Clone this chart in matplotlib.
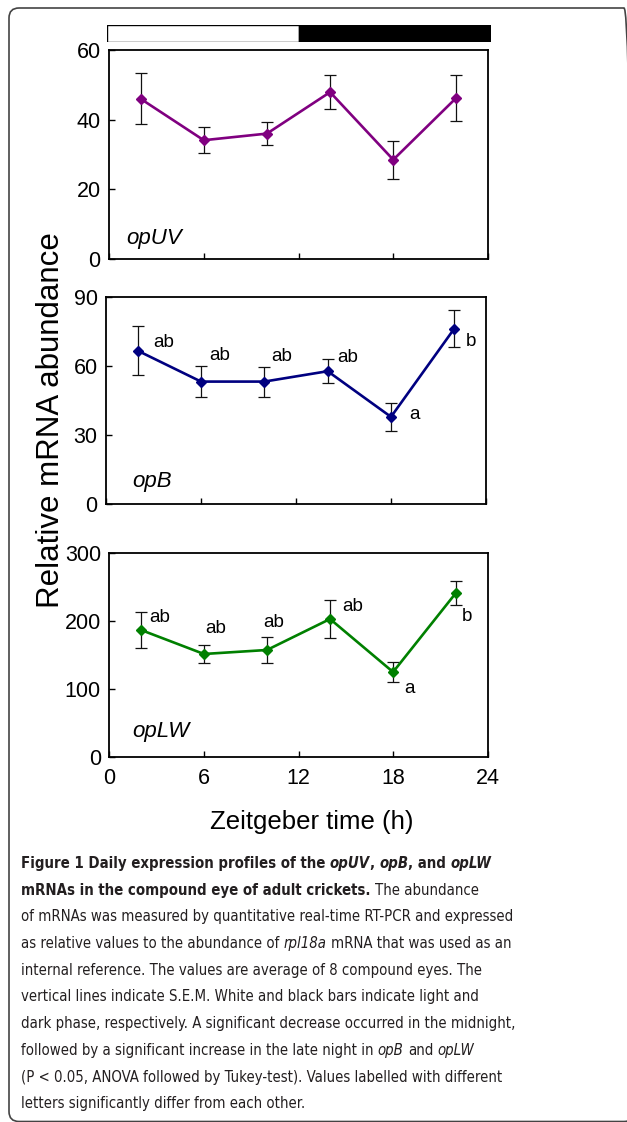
import matplotlib
matplotlib.use('Agg')
import matplotlib.pyplot as plt
from matplotlib import font_manager
from matplotlib.patches import FancyBboxPatch
from matplotlib.transforms import IdentityTransform

# data (mean +/- S.E.M.)
zt = [2, 6, 10, 14, 18, 22]
opuv = [46.0, 34.1, 36.0, 47.9, 28.5, 46.3]
opuv_sem = [7.3, 3.7, 3.3, 4.8, 5.4, 6.6]
opb = [66.6, 53.2, 53.2, 57.7, 37.9, 76.2]
opb_sem = [10.5, 6.8, 6.5, 5.3, 6.2, 8.0]
oplw = [187.0, 151.5, 157.4, 203.1, 124.9, 242.0]
oplw_sem = [26.6, 13.3, 18.5, 27.5, 14.2, 17.7]
opb_letters = ['ab', 'ab', 'ab', 'ab', 'a', 'b']
oplw_letters = ['ab', 'ab', 'ab', 'ab', 'a', 'b']
xticks = [0, 6, 12, 18, 24]
light_phase = (0, 12)
dark_phase = (12, 24)

W, H = 627, 1122

# is there a condensed face to use for the caption?
cond_file = font_manager.findfont(font_manager.FontProperties(family='DejaVu Sans', stretch='condensed'))
HAS_COND = 'condensed' in cond_file.lower()
SANS = 'Liberation Sans'

plt.rcParams['font.family'] = [SANS, 'DejaVu Sans']

fig = plt.figure(figsize=(W / 100, H / 100), dpi=100)


def px_axes(left, top, right, bottom):
    return fig.add_axes([left / W, 1 - bottom / H, (right - left) / W, (bottom - top) / H])


def style_axes(ax, ymax, yticks, show_x):
    ax.set_xlim(0, 24)
    ax.set_ylim(0, ymax)
    ax.set_xticks(xticks)
    ax.set_yticks(yticks)
    for s in ax.spines.values():
        s.set_linewidth(1.3)
    ax.tick_params(direction='in', length=4, width=1, top=False, right=False,
                   labelsize=15.5, pad=6)
    if not show_x:
        ax.tick_params(labelbottom=False)
    else:
        ax.tick_params(axis='x', pad=8)


def draw_series(ax, y, err, color):
    ax.errorbar(zt, y, yerr=err, color=color, marker='D', ms=5, lw=1.9,
                ecolor='#111111', elinewidth=0.9, capsize=4.5, capthick=0.9, zorder=3)


# light / dark bar
bar = px_axes(106.7, 25, 491, 42)
bar.set_xlim(0, 24)
bar.set_ylim(0, 1)
bar.barh(0.5, light_phase[1] - light_phase[0], left=light_phase[0], height=1,
         color='white', edgecolor='black', lw=1)
bar.barh(0.5, dark_phase[1] - dark_phase[0], left=dark_phase[0], height=1,
         color='black', edgecolor='black', lw=1)
bar.axis('off')

# opUV
ax1 = px_axes(109, 50, 488, 259)
draw_series(ax1, opuv, opuv_sem, '#800080')
style_axes(ax1, 60, [0, 20, 40, 60], False)
ax1.text(0.045, 0.10, 'opUV', transform=ax1.transAxes, fontsize=16, style='italic', va='center')

# opB
ax2 = px_axes(106, 296.7, 486, 504.3)
draw_series(ax2, opb, opb_sem, '#000080')
style_axes(ax2, 90, [0, 30, 60, 90], False)
ax2.text(0.068, 0.109, 'opB', transform=ax2.transAxes, fontsize=16, style='italic', va='center')
opb_off = [(11, 6), (6, 19), (5, 18), (7, 10), (13, 1.5), (8, -9.5)]
for xi, yi, lab, off in zip(zt, opb, opb_letters, opb_off):
    ax2.annotate(lab, (xi, yi), xytext=off, textcoords='offset points',
                 fontsize=13.5, ha='left', va='center')

# opLW
ax3 = px_axes(109.3, 553.3, 487.7, 756.7)
draw_series(ax3, oplw, oplw_sem, '#008000')
style_axes(ax3, 300, [0, 100, 200, 300], True)
ax3.text(0.062, 0.123, 'opLW', transform=ax3.transAxes, fontsize=16, style='italic', va='center')
oplw_off = [(6, 9), (1, 18), (-2.5, 20), (8.5, 9), (8, -12), (4, -17)]
for xi, yi, lab, off in zip(zt, oplw, oplw_letters, oplw_off):
    ax3.annotate(lab, (xi, yi), xytext=off, textcoords='offset points',
                 fontsize=13.5, ha='left', va='center')

fig.text(51 / W, 1 - 420 / H, 'Relative mRNA abundance', rotation=90,
         fontsize=22.5, ha='center', va='center')
fig.text(312 / W, 1 - 822 / H, 'Zeitgeber time (h)', fontsize=18.5, ha='center', va='center')

# frame around figure + caption (runs off the right edge like the scan)
frame = FancyBboxPatch((9, 0.5), 625, 1113.5, boxstyle='round,pad=0,rounding_size=10',
                       transform=IdentityTransform(), fill=False, edgecolor='#444444', lw=1.2)
fig.patches.append(frame)

caption = [
    [('Figure 1 Daily expression profiles of the ', 'bold', 'normal'), ('opUV', 'bold', 'italic'),
     (', ', 'bold', 'normal'), ('opB', 'bold', 'italic'), (', and ', 'bold', 'normal'),
     ('opLW', 'bold', 'italic')],
    [('mRNAs in the compound eye of adult crickets.', 'bold', 'normal'),
     (' The abundance', 'normal', 'normal')],
    [('of mRNAs was measured by quantitative real-time RT-PCR and expressed', 'normal', 'normal')],
    [('as relative values to the abundance of ', 'normal', 'normal'), ('rpl18a', 'normal', 'italic'),
     (' mRNA that was used as an', 'normal', 'normal')],
    [('internal reference. The values are average of 8 compound eyes. The', 'normal', 'normal')],
    [('vertical lines indicate S.E.M. White and black bars indicate light and', 'normal', 'normal')],
    [('dark phase, respectively. A significant decrease occurred in the midnight,', 'normal', 'normal')],
    [('followed by a significant increase in the late night in ', 'normal', 'normal'),
     ('opB', 'normal', 'italic'), (' and ', 'normal', 'normal'), ('opLW', 'normal', 'italic')],
    [('(P < 0.05, ANOVA followed by Tukey-test). Values labelled with different', 'normal', 'normal')],
    [('letters significantly differ from each other.', 'normal', 'normal')],
]

renderer = fig.canvas.get_renderer()
cap_left = 21
cap_color = '#231f20'
cap_kw = dict(family='DejaVu Sans', fontstretch='condensed') if HAS_COND else dict(family=SANS)


def text_w(s, size, weight='normal', style='normal'):
    t = fig.text(0, 0, s, fontsize=size, fontweight=weight, fontstyle=style, **cap_kw)
    w = t.get_window_extent(renderer).width
    t.remove()
    return w


def place_line(y, runs, size, draw):
    x = cap_left
    sp = text_w('n n', size) - text_w('nn', size)
    for txt, weight, style in runs:
        lead = len(txt) - len(txt.lstrip(' '))
        trail = len(txt) - len(txt.rstrip(' '))
        core = txt.strip(' ')
        x += lead * sp
        if draw:
            fig.text(x / W, 1 - y / H, core, fontsize=size, fontweight=weight, fontstyle=style,
                     color=cap_color, ha='left', va='baseline', **cap_kw)
        x += text_w(core, size, weight, style) + trail * sp
    return x - cap_left


base = 10.0
widest = max(place_line(0, runs, base, False) for runs in caption)
cap_size = base * 492 / widest
for i, runs in enumerate(caption):
    place_line(868 + 26.7 * i, runs, cap_size, True)

plt.savefig('out.png', dpi=100)
